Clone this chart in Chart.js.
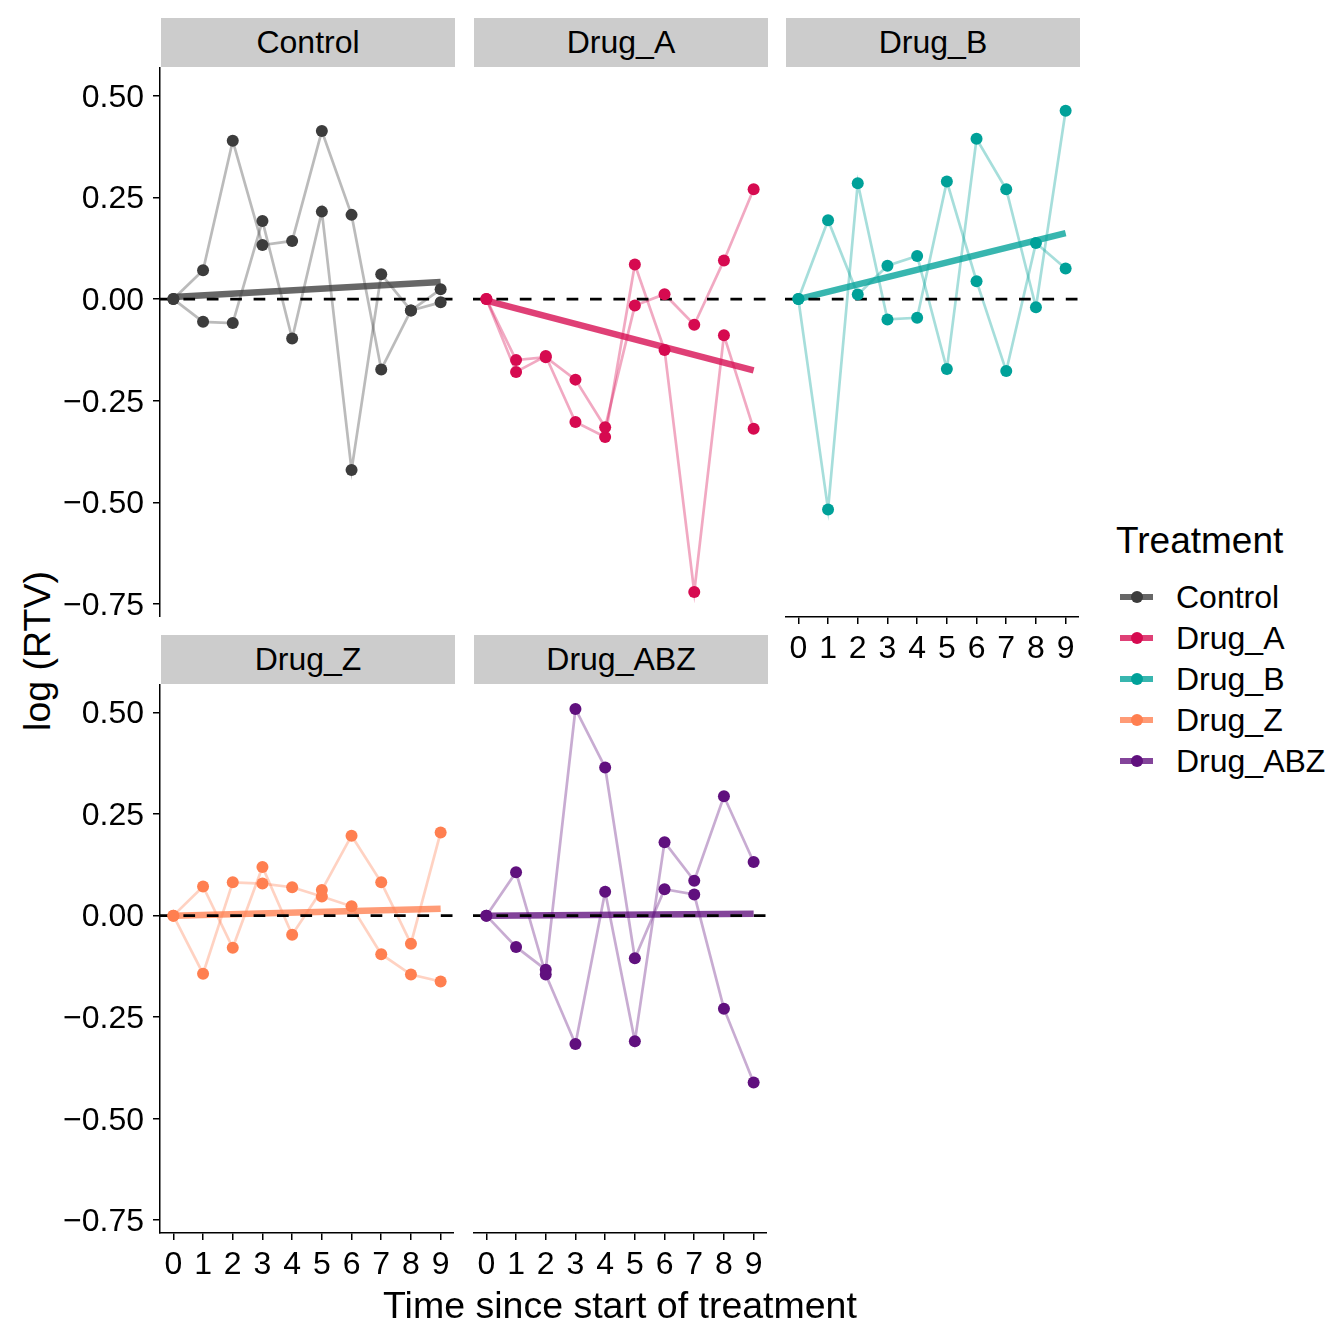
<!DOCTYPE html>
<html>
<head>
<meta charset="utf-8">
<script src="https://cdn.jsdelivr.net/npm/chart.js@4.4.1/dist/chart.umd.min.js"></script>
<style>
  html, body { margin: 0; padding: 0; background: #ffffff; }
  body { width: 1333px; height: 1322px; position: relative; overflow: hidden;
         font-family: "Liberation Sans", Arial, Helvetica, sans-serif; color: #000; }
  canvas { position: absolute; }
  .strip { position: absolute; background: #cccccc; color: #000; font-size: 32px;
           display: flex; align-items: center; justify-content: center; }
  .title { position: absolute; font-size: 37.5px; white-space: nowrap; line-height: 1; }
  .legend-title { position: absolute; font-size: 37px; line-height: 1; white-space: nowrap; }
  .legend-row { position: absolute; height: 30px; }
  .legend-row .kline { position: absolute; left: 0; top: 12px; width: 33px; height: 6px; }
  .legend-row .kdot { position: absolute; left: 11px; top: 9px; width: 12px; height: 12px; border-radius: 50%; }
  .legend-row .klabel { position: absolute; left: 56px; top: 0; font-size: 32px; line-height: 30px; white-space: nowrap; }
</style>
</head>
<body>
<script>
// ---------------- DATA ----------------
const treatments = ["Control", "Drug_A", "Drug_B", "Drug_Z", "Drug_ABZ"];
const timePoints = [0, 1, 2, 3, 4, 5, 6, 7, 8, 9];
const yTickValues = [-0.75, -0.5, -0.25, 0, 0.25, 0.5];

// two subjects per treatment, log(RTV) at each time point
const control_s1 = [0, 0.071, 0.389, 0.133, 0.143, 0.413, 0.207, -0.173, -0.028, 0.024];
const control_s2 = [0, -0.056, -0.059, 0.192, -0.097, 0.215, -0.420, 0.061, -0.028, -0.008];
const drugA_s1 = [0, -0.150, -0.143, -0.198, -0.315, -0.016, 0.012, -0.063, 0.095, 0.270];
const drugA_s2 = [0, -0.179, -0.140, -0.302, -0.339, 0.085, -0.125, -0.720, -0.089, -0.319];
const drugB_s1 = [0, 0.194, 0.011, 0.082, 0.106, -0.172, 0.394, 0.270, -0.020, 0.463];
const drugB_s2 = [0, -0.517, 0.285, -0.050, -0.046, 0.289, 0.044, -0.177, 0.138, 0.075];
const drugZ_s1 = [0, 0.072, -0.079, 0.120, -0.047, 0.063, 0.197, 0.082, -0.069, 0.205];
const drugZ_s2 = [0, -0.143, 0.082, 0.079, 0.070, 0.047, 0.023, -0.095, -0.145, -0.162];
const drugABZ_s1 = [0, 0.107, -0.145, -0.316, 0.059, -0.309, 0.181, 0.086, 0.294, 0.132];
const drugABZ_s2 = [0, -0.077, -0.133, 0.509, 0.365, -0.105, 0.065, 0.052, -0.229, -0.411];

// fitted linear trend per treatment: value at first and last time point
const trendStart = [0.005, -0.004, 0.0, 0.0, 0.0];
const trendEnd = [0.042, -0.175, 0.162, 0.017, 0.005];

const subjectSeries = [
  [control_s1, control_s2],
  [drugA_s1, drugA_s2],
  [drugB_s1, drugB_s2],
  [drugZ_s1, drugZ_s2],
  [drugABZ_s1, drugABZ_s2]
];

// ---------------- STYLE ----------------
const palette = ["60,60,60", "214,10,80", "0,161,153", "255,127,80", "96,16,126"];
const FONT = '"Liberation Sans", Arial, Helvetica, sans-serif';
const X_MIN = -0.45, X_MAX = 9.45, Y_MIN = -0.7815, Y_MAX = 0.5705;

// facet layout: [col, row, showX, showY]
const facetLayout = [[0, 0, false, true], [1, 0, false, false], [2, 0, true, false], [0, 1, true, true], [1, 1, true, false]];
const colLeft = [160, 473, 785];
const rowTop = [67, 684];
const stripTop = [18, 635];
const plotW = 294;
const plotH = [550, 549];
const Y_AXIS_W = 100, X_AXIS_H = 58;

function toPoints(vals) { return vals.map((v, i) => ({ x: timePoints[i], y: v })); }
function fmtTick(v) { const s = Math.abs(v).toFixed(2); return v < 0 ? "\u2212" + s : s; }

function makePanel(k) {
  const [col, row, showX, showY] = facetLayout[k];
  const rgb = palette[k];
  const yW = showY ? Y_AXIS_W : 0;
  const xH = showX ? X_AXIS_H : 0;

  const strip = document.createElement("div");
  strip.className = "strip";
  strip.style.left = (colLeft[col] + 1) + "px";
  strip.style.top = stripTop[row] + "px";
  strip.style.width = (plotW) + "px";
  strip.style.height = "49px";
  strip.textContent = treatments[k];
  document.body.appendChild(strip);

  const canvas = document.createElement("canvas");
  canvas.width = plotW + yW;
  canvas.height = plotH[row] + xH;
  canvas.style.left = (colLeft[col] - yW) + "px";
  canvas.style.top = rowTop[row] + "px";
  document.body.appendChild(canvas);

  const datasets = [];
  subjectSeries[k].forEach(s => {
    datasets.push({ data: toPoints(s), showLine: true, borderColor: `rgba(${rgb},0.35)`, borderWidth: 2.7,
                    pointRadius: 0, order: 4 });
  });
  datasets.push({ data: [{ x: timePoints[0], y: trendStart[k] }, { x: timePoints[timePoints.length - 1], y: trendEnd[k] }],
                  showLine: true, borderColor: `rgba(${rgb},0.78)`, borderWidth: 6.5, pointRadius: 0, order: 3 });
  datasets.push({ data: [{ x: X_MIN, y: 0 }, { x: X_MAX, y: 0 }], showLine: true, borderColor: "#000",
                  borderWidth: 2.8, borderDash: [11.7, 11.7], pointRadius: 0, order: 2 });
  subjectSeries[k].forEach(s => {
    datasets.push({ data: toPoints(s), showLine: false, pointRadius: 6, pointBorderWidth: 0,
                    pointBackgroundColor: `rgb(${rgb})`, order: 1 });
  });

  const axisCommon = {
    grid: { display: true, drawOnChartArea: false, drawTicks: true, tickLength: 7, color: "#000", lineWidth: 1.5 },
    border: { display: true, color: "#000", width: 1.5 },
  };

  new Chart(canvas, {
    type: "scatter",
    data: { datasets },
    options: {
      responsive: false, animation: false, events: [],
      layout: { padding: 0, autoPadding: false },
      plugins: { legend: { display: false }, tooltip: { enabled: false }, title: { display: false } },
      scales: {
        x: Object.assign({}, axisCommon, {
          type: "linear", position: "bottom", min: X_MIN, max: X_MAX, display: showX,
          afterBuildTicks: s => { s.ticks = timePoints.map(v => ({ value: v })); },
          afterFit: s => { s.height = xH; s.paddingLeft = 0; s.paddingRight = 0; },
          ticks: { color: "#000", font: { family: FONT, size: 32 }, padding: 6, maxRotation: 0, autoSkip: false,
                   callback: v => String(v) }
        }),
        y: Object.assign({}, axisCommon, {
          type: "linear", position: "left", min: Y_MIN, max: Y_MAX, display: showY,
          afterBuildTicks: s => { s.ticks = yTickValues.map(v => ({ value: v })); },
          afterFit: s => { s.width = yW; s.paddingTop = 0; s.paddingBottom = 0; },
          ticks: { color: "#000", font: { family: FONT, size: 32 }, padding: 9, autoSkip: false, labelOffset: 2,
                   callback: v => fmtTick(v) }
        })
      }
    }
  });
}

treatments.forEach((t, k) => makePanel(k));

// axis titles
const xTitle = document.createElement("div");
xTitle.className = "title";
xTitle.textContent = "Time since start of treatment";
xTitle.style.left = "620px"; xTitle.style.top = "1287px";
xTitle.style.transform = "translateX(-50%)";
document.body.appendChild(xTitle);

const yTitle = document.createElement("div");
yTitle.className = "title";
yTitle.textContent = "log (RTV)";
yTitle.style.left = "38px"; yTitle.style.top = "651px";
yTitle.style.transform = "translate(-50%,-50%) rotate(-90deg)";
document.body.appendChild(yTitle);

// legend
const lt = document.createElement("div");
lt.className = "legend-title";
lt.textContent = "Treatment";
lt.style.left = "1116px"; lt.style.top = "522px";
document.body.appendChild(lt);
treatments.forEach((t, k) => {
  const row = document.createElement("div");
  row.className = "legend-row";
  row.style.left = "1120px";
  row.style.top = (582 + k * 41) + "px";
  row.innerHTML = `<div class="kline" style="background:rgba(${palette[k]},0.78)"></div>` +
                  `<div class="kdot" style="background:rgb(${palette[k]})"></div>` +
                  `<div class="klabel">${t}</div>`;
  document.body.appendChild(row);
});
</script>
</body>
</html>
